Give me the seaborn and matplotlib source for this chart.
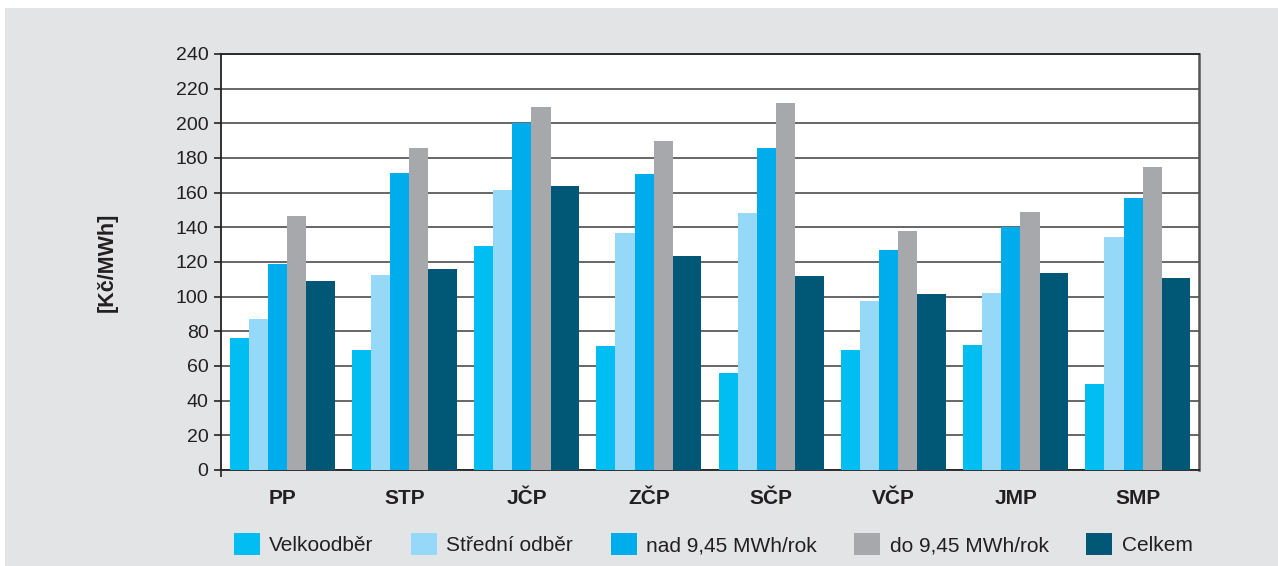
import matplotlib
matplotlib.use("Agg")
import matplotlib.pyplot as plt
from matplotlib.patches import Patch, Rectangle
import seaborn as sns
import pandas as pd

# data
regions = ["PP", "STP", "JČP", "ZČP", "SČP", "VČP", "JMP", "SMP"]
series = ["Velkoodběr", "Střední odběr", "nad 9,45 MWh/rok", "do 9,45 MWh/rok", "Celkem"]
velkoodber = [76, 69, 129, 71.5, 56, 69, 72, 49.5]
stredni = [87, 112.5, 161.5, 137, 148.5, 97.5, 102, 134.5]
nad_945 = [119, 171.5, 200, 170.5, 185.5, 127, 140, 157]
do_945 = [146.5, 185.5, 209.5, 190, 212, 138, 149, 175]
celkem = [109, 116, 164, 123.5, 112, 101.5, 113.5, 111]
y_ticks = list(range(0, 241, 20))

colors = ["#00bef2", "#96d8f7", "#00adec", "#a7a8ac", "#005876"]

df = pd.DataFrame({
    "region": regions * 5,
    "series": [s for s in series for _ in regions],
    "value": velkoodber + stredni + nad_945 + do_945 + celkem,
})

sns.set_style("white")
plt.rcParams["font.family"] = ["Liberation Sans", "DejaVu Sans"]

fig = plt.figure(figsize=(12.78, 5.66), dpi=100, facecolor="white")
# grey panel with thin white margin at top and left
fig.patches.append(Rectangle((5 / 1278, 0), 1, (566 - 8) / 566,
                             transform=fig.transFigure, facecolor="#e3e4e6",
                             edgecolor="none", zorder=-10))
ax = fig.add_axes([221 / 1278, 1 - 470 / 566, (1199 - 221) / 1278, (470 - 54) / 566])
ax.set_facecolor("white")

sns.barplot(data=df, x="region", y="value", hue="series", palette=colors,
            width=0.86, legend=False, ax=ax, saturation=1, zorder=3)

# last series is drawn 1.5x wider than the others
group_w = 0.86
unit = group_w / 5.5
rel = [1, 1, 1, 1, 1.5]
for i, cont in enumerate(ax.containers):
    start = sum(rel[:i]) * unit
    for k, bar in enumerate(cont.patches):
        bar.set_x(k - group_w / 2 + start)
        bar.set_width(rel[i] * unit)
        bar.set_edgecolor("none")

ax.set_ylim(0, 240)
ax.set_xlim(-0.5, len(regions) - 0.5)
ax.set_yticks(y_ticks)
ax.set_xticks([-0.5], minor=True)
ax.yaxis.grid(True, color="#5a5a5a", linewidth=1.3, zorder=0)
ax.set_axisbelow(True)

for side in ["left", "bottom", "top"]:
    ax.spines[side].set_color("#222222")
    ax.spines[side].set_linewidth(1.3)
ax.spines["right"].set_color("#555555")
ax.spines["right"].set_linewidth(1.8)

ax.tick_params(axis="y", length=5, width=1.2, color="#222222", labelsize=14,
               labelcolor="#231f20", pad=4, left=True)
ax.tick_params(axis="x", which="major", length=0, labelsize=15, pad=14,
               labelcolor="#231f20")
ax.tick_params(axis="x", which="minor", length=5, width=1.2, color="#222222",
               bottom=True)
for lab in ax.get_xticklabels():
    lab.set_fontweight("bold")

ax.set_xlabel("")
ax.set_ylabel("[Kč/MWh]", fontsize=15.5, fontweight="bold", color="#231f20")
ax.yaxis.set_label_coords((118 - 221) / 978, 0.5)

handles = [Patch(facecolor=c, edgecolor="none") for c in colors]
fig.legend(handles, series, loc="center", bbox_to_anchor=(713 / 1278, 22 / 566),
           ncol=5, frameon=False, fontsize=15, handlelength=1.25, handleheight=1.25,
           handletextpad=0.45, columnspacing=1.8, labelcolor="#231f20")

fig.savefig("out.png", dpi=100, facecolor=fig.get_facecolor())
plt.close(fig)
